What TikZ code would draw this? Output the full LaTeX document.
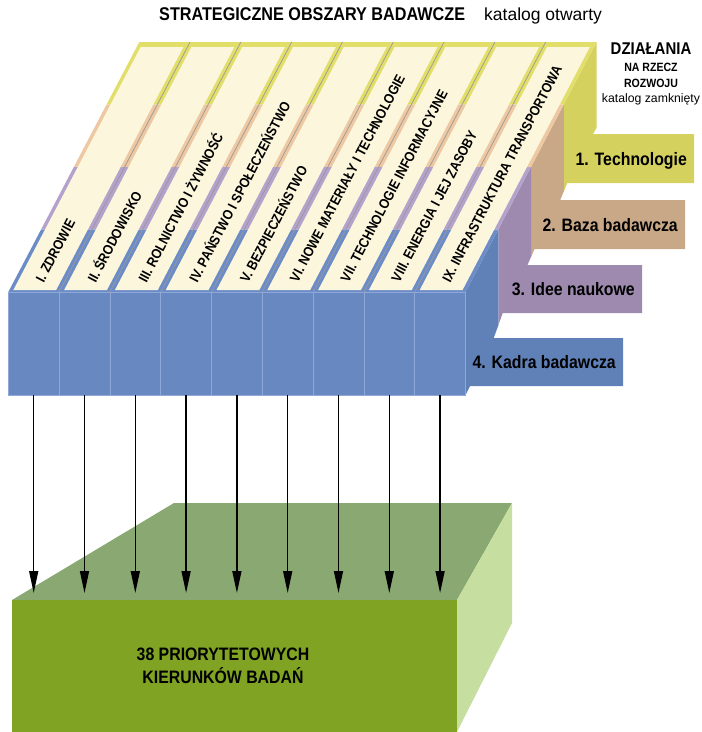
\documentclass[tikz,border=0pt]{standalone}
\usepackage{fontspec}
\setmainfont{Liberation Sans}
\newfontfamily\condfont[FakeStretch=0.88]{Liberation Sans}
\usetikzlibrary{arrows.meta}

\definecolor{techYel}{HTML}{D5D15F}
\definecolor{bazaTan}{HTML}{C9A887}
\definecolor{ideeLav}{HTML}{9D8AAE}
\definecolor{kadraBlue}{HTML}{6080B8}
\definecolor{bandYel}{HTML}{E2DE6A}
\definecolor{bandTan}{HTML}{EDC8A2}
\definecolor{bandLav}{HTML}{B4A2CC}
\definecolor{bandBlue}{HTML}{6C8CC7}
\definecolor{cream}{HTML}{FBF6DC}
\definecolor{colBlue}{HTML}{6888C2}
\definecolor{colEdge}{HTML}{8FA8D8}
\definecolor{greenFront}{HTML}{80A324}
\definecolor{greenTop}{HTML}{8AA872}
\definecolor{greenSide}{HTML}{C6DFA1}

\begin{document}
\begin{tikzpicture}[x=1pt,y=-1pt,
    col/.style={shape=rectangle,draw=colEdge,fill=colBlue,line width=0.7pt,minimum width=50.8pt,minimum height=103pt,inner sep=0pt},
    area/.style={anchor=west,rotate=62.35,inner sep=0pt,font=\condfont\bfseries\fontsize{14}{14}\selectfont},
    action/.style={anchor=base east,inner sep=0pt,font=\condfont\bfseries\fontsize{18}{18}\selectfont},
    arr/.style={-{Triangle[length=22pt,width=9pt]},line width=1.5pt}]
  \useasboundingbox (0,0) rectangle (702,732);

  % headings
  \node[anchor=base west,inner sep=0pt,font=\condfont\bfseries\fontsize{18.4}{20}\selectfont] (open) at (159,20) {STRATEGICZNE OBSZARY BADAWCZE};
  \node[anchor=base west,inner sep=0pt,font=\fontsize{17.5}{20}\selectfont] (openCat) at (484,20) {katalog otwarty};
  \node[anchor=base,inner sep=0pt,font=\condfont\bfseries\fontsize{17}{17}\selectfont] (closed) at (651,54) {DZIAŁANIA};
  \node[anchor=base,inner sep=0pt,font=\condfont\bfseries\fontsize{12}{12}\selectfont] (closed2) at (651,71) {NA RZECZ};
  \node[anchor=base,inner sep=0pt,font=\condfont\bfseries\fontsize{12}{12}\selectfont] (closed3) at (651,87.5) {ROZWOJU};
  \node[anchor=base,inner sep=0pt,font=\fontsize{12.25}{12}\selectfont] (closedCat) at (651,102) {katalog zamknięty};

  % side faces of the four layers
  \fill[techYel] (596.5,42) -- (596.5,128) -- (593,134) -- (694,134) -- (694,183) -- (567.25,183) -- (563.75,191.5) -- (563.75,104.5) -- cycle;
  \fill[bazaTan] (563.75,104.5) -- (563.75,191.5) -- (560.25,200) -- (685,200) -- (685,249) -- (534.5,249) -- (531,257) -- (531,167) -- cycle;
  \fill[ideeLav] (531,167) -- (531,257) -- (527.5,265) -- (642,265) -- (642,313) -- (502.75,313) -- (498.25,325.5) -- (498.25,229.5) -- cycle;
  \fill[kadraBlue] (498.25,229.5) -- (498.25,325.5) -- (493.75,338) -- (623,338) -- (623,386) -- (470,386) -- (465.5,395) -- (465.5,292) -- cycle;

  \node[action] (tech) at (687,165) {1. Technologie};
  \node[action] (baza) at (678,231) {2. Baza badawcza};
  \node[action] (idee) at (635,295.5) {3. Idee naukowe};
  \node[action] (kadra) at (616,368.5) {4. Kadra badawcza};

  % top face: bands, strips, separators
  \foreach \k/\c in {0/bandYel,1/bandTan,2/bandLav,3/bandBlue}
    \fill[\c] ({139.3-32.75*\k},{42+62.5*\k}) -- ({596.5-32.75*\k},{42+62.5*\k}) -- ({563.75-32.75*\k},{104.5+62.5*\k}) -- ({106.55-32.75*\k},{104.5+62.5*\k}) -- cycle;
  \foreach \i in {0,...,8}
    \fill[cream] ({13.35+50.8*\i},290) -- ({56.15+50.8*\i},290) -- ({183.45+50.8*\i},47) -- ({140.65+50.8*\i},47) -- cycle;
  \foreach \i in {1,...,8}
    \draw[black!40,line width=0.7pt] ({8.3+50.8*\i},292) -- ++(131,-250);

  \node[area] (a1) at (39.5,281) {I. ZDROWIE};
  \node[area] (a2) at (90.3,281) {II. ŚRODOWISKO};
  \node[area] (a3) at (141.1,281) {III. ROLNICTWO I ŻYWNOŚĆ};
  \node[area] (a4) at (191.9,281) {IV. PAŃSTWO I SPOŁECZEŃSTWO};
  \node[area] (a5) at (242.7,281) {V. BEZPIECZEŃSTWO};
  \node[area] (a6) at (293.5,281) {VI. NOWE MATERIAŁY I TECHNOLOGIE};
  \node[area] (a7) at (344.3,281) {VII. TECHNOLOGIE INFORMACYJNE};
  \node[area] (a8) at (395.1,281) {VIII. ENERGIA I JEJ ZASOBY};
  \node[area] (a9) at (445.9,281) {IX. INFRASTRUKTURA TRANSPORTOWA};

  % front columns
  \node[col] (c1) at (33.7,343.5) {};
  \node[col] (c2) at (84.5,343.5) {};
  \node[col] (c3) at (135.3,343.5) {};
  \node[col] (c4) at (186.1,343.5) {};
  \node[col] (c5) at (236.9,343.5) {};
  \node[col] (c6) at (287.7,343.5) {};
  \node[col] (c7) at (338.5,343.5) {};
  \node[col] (c8) at (389.3,343.5) {};
  \node[col] (c9) at (440.1,343.5) {};

  % result block
  \fill[greenTop] (12,600) -- (174,503) -- (512,503) -- (457,600) -- cycle;
  \fill[greenSide] (457,600) -- (512,503) -- (512,623) -- (457,732) -- cycle;
  \node[shape=rectangle,fill=greenFront,minimum width=445pt,minimum height=132pt,inner sep=0pt] (prio) at (234.5,666) {};
  \node[align=center,inner sep=0pt,font=\condfont\bfseries\fontsize{18}{23}\selectfont] (prioText) at (223,666) {38 PRIORYTETOWYCH\\KIERUNKÓW BADAŃ};

  \coordinate (t1) at (33.7,593);
  \coordinate (t2) at (84.5,593);
  \coordinate (t3) at (135.3,593);
  \coordinate (t4) at (186.1,593);
  \coordinate (t5) at (236.9,593);
  \coordinate (t6) at (287.7,593);
  \coordinate (t7) at (338.5,593);
  \coordinate (t8) at (389.3,593);
  \coordinate (t9) at (440.1,593);

  \path[arr] (c1) edge (t1);
  \path[arr] (c2) edge (t2);
  \path[arr] (c3) edge (t3);
  \path[arr] (c4) edge (t4);
  \path[arr] (c5) edge (t5);
  \path[arr] (c6) edge (t6);
  \path[arr] (c7) edge (t7);
  \path[arr] (c8) edge (t8);
  \path[arr] (c9) edge (t9);
\end{tikzpicture}
\end{document}
